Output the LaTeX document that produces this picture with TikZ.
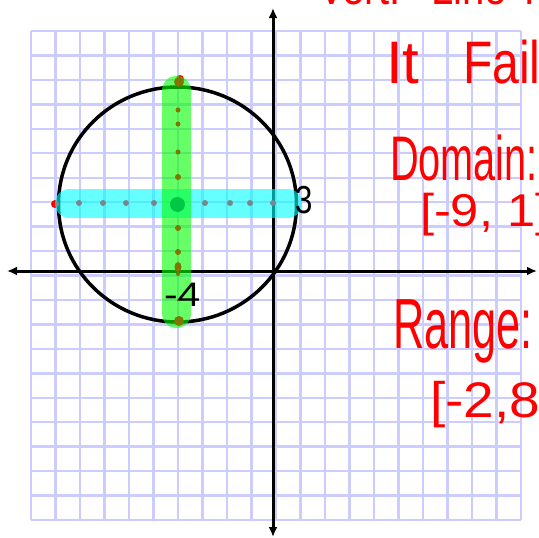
\documentclass[tikz,border=0pt]{standalone}
\usepackage{fontspec}
\setmainfont{Liberation Sans}
\usetikzlibrary{arrows.meta}
\definecolor{gridc}{RGB}{204,204,255}
\definecolor{handred}{RGB}{255,0,0}
\definecolor{barcyan}{RGB}{0,255,255}
\definecolor{bargreen}{RGB}{0,255,0}
\definecolor{dotgray}{RGB}{120,135,135}
\definecolor{dotolive}{RGB}{128,118,0}
\definecolor{ctrgreen}{RGB}{0,200,70}
\begin{document}
\begin{tikzpicture}[x=1pt,y=-1pt,
  gridline/.style={draw=gridc, line width=2.4pt},
  axis/.style={draw=black, line width=3pt, {Latex[length=10pt,width=9pt]}-{Latex[length=10pt,width=9pt]}},
  curve/.style={draw=black, line width=3.5pt},
  bar/.style={line width=29pt, line cap=round, opacity=0.6},
  hand/.style={text=handred, inner sep=0pt, outer sep=0pt},
  ink/.style={text=black, inner sep=0pt, outer sep=0pt},
  hdot/.style={fill=dotgray, draw=none},
  vdot/.style={fill=dotolive, draw=none},
]
\useasboundingbox (0,0) rectangle (539,538);
\clip (0,0) rectangle (539,538);
\fill[white] (0,0) rectangle (539,538);
% grid
\foreach \k in {0,...,20}{
  \draw[gridline] ({31+24.5*\k},31) -- ({31+24.5*\k},520);
  \draw[gridline] (31,{31+24.45*\k}) -- (521,{31+24.45*\k});
}
% axes
\coordinate (xl) at (7,271);
\coordinate (xr) at (537,271);
\coordinate (yt) at (273,8);
\coordinate (yb) at (273,537);
\draw[axis] (xl) -- (xr);
\draw[axis] (yt) -- (yb);
% circle
\draw[curve] (177.5,204.5) ellipse [x radius=119pt, y radius=117.5pt];
% end points
\fill[handred] (55,204) circle (4pt);
\fill[handred] (180,79) circle (4pt);
% bars
\draw[bar, draw=barcyan] (69.5,203.5) -- (287.5,203.5);
\draw[bar, draw=bargreen] (176.5,90.5) -- (176.5,313.5);
% horizontal dots
\foreach \x in {79,103,126,154,205,230,250,273}{
  \fill[hdot] (\x,203) circle (3pt);
}
% vertical dots
\foreach \y/\r in {110/2.5,124/2.5,152/2.5,177/3,228/3,252/3,274/2,300/1.5}{
  \fill[vdot] (178,\y) circle (\r pt);
}
\fill[vdot] (178,267) ellipse [x radius=3.5pt, y radius=5pt];
\fill[vdot] (179,321) circle (5pt);
\fill[vdot] (179,82) circle (5pt);
\fill[ctrgreen] (177.5,204.5) circle (7.5pt);
% labels on graph
\node[ink, anchor=base west] (three) at (295,213) {\scalebox{0.8}[1]{\fontsize{39}{39}\selectfont 3}};
\node[ink, anchor=base west] (minusfour) at (164,306) {\scalebox{1.2}[1]{\fontsize{34}{34}\selectfont -4}};
% handwritten notes
\node[hand, anchor=base west] (title) at (318,5) {\scalebox{0.8}[1]{\fontsize{50}{50}\selectfont Vert.\hspace{20pt} Line Test}};
\node[hand, anchor=base west] (fails) at (386,83) {\fontsize{60}{60}\selectfont It\hspace{27pt} \scalebox{0.8}[1]{Fails}};
\node[hand, anchor=base west] (domain) at (390,180) {\scalebox{0.63}[1]{\fontsize{63}{63}\selectfont Domain:}};
\node[hand, anchor=base west] (domval) at (420,226) {\scalebox{1.1}[1]{\fontsize{46}{46}\selectfont [-9, 1]}};
\node[hand, anchor=base west] (range) at (393,348) {\scalebox{0.61}[1]{\fontsize{71}{71}\selectfont Range:}};
\node[hand, anchor=base west] (ranval) at (430,417) {\scalebox{1.1}[1]{\fontsize{50}{50}\selectfont [-2,8]}};
\end{tikzpicture}
\end{document}
